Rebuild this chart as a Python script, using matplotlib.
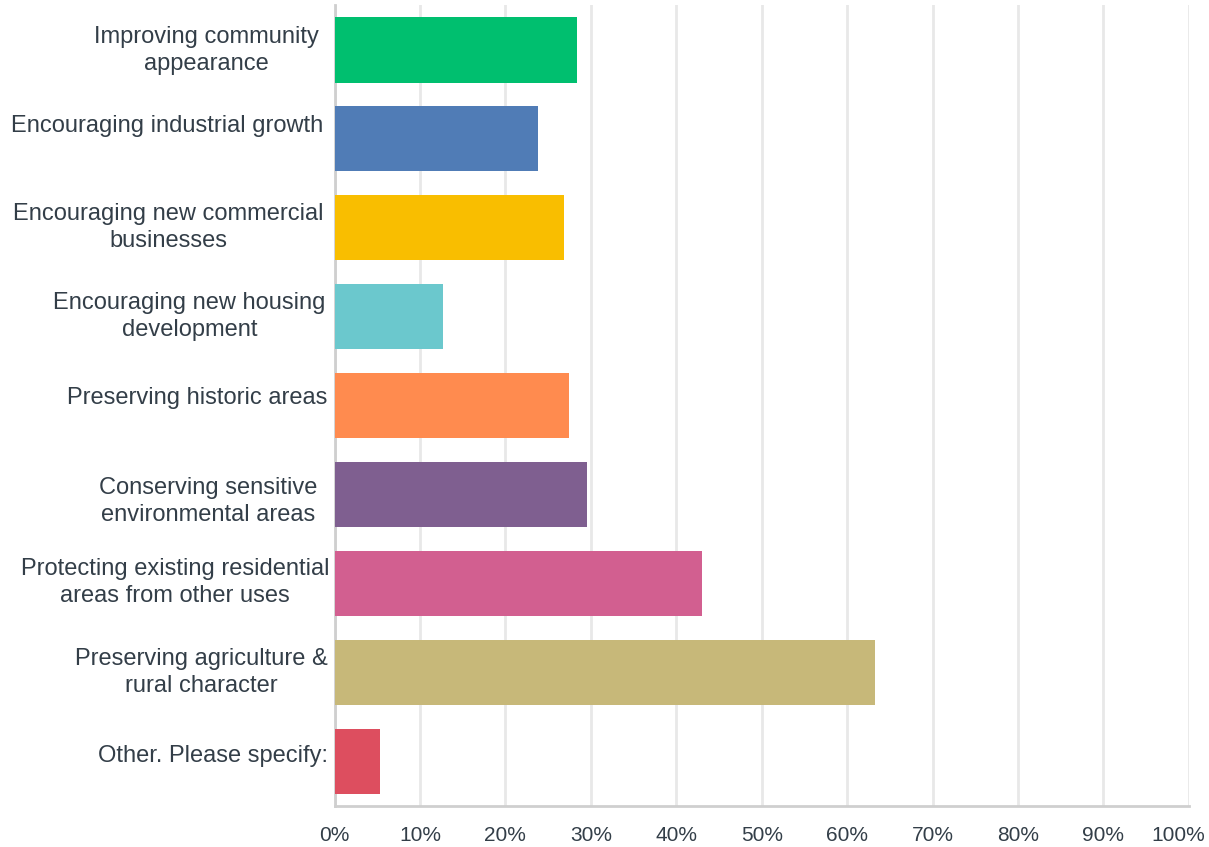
import matplotlib
matplotlib.use("Agg")
import matplotlib.pyplot as plt

categories = [
    "Improving community\nappearance",
    "Encouraging industrial growth",
    "Encouraging new commercial\nbusinesses",
    "Encouraging new housing\ndevelopment",
    "Preserving historic areas",
    "Conserving sensitive\nenvironmental areas",
    "Protecting existing residential\nareas from other uses",
    "Preserving agriculture &\nrural character",
    "Other. Please specify:",
]
values = [28.4, 23.8, 26.9, 12.7, 27.4, 29.5, 43.0, 63.3, 5.3]
colors = ["#00bf6f", "#507cb6", "#f9be00", "#6bc8cd", "#ff8b4f",
          "#7f5f90", "#d25f90", "#c7b879", "#dd4e5f"]
xticks = list(range(0, 101, 10))
xtick_labels = [f"{t}%" for t in xticks]

# small per-label nudges (pixels: x right, y up) for the category labels
label_nudge = [(-9, -1), (-4, 13), (-4, 0), (-2, 0), (0, 8),
               (-10, -7), (2, 1), (0, 0), (0, 6)]

text_color = "#333e48"
font = ["Liberation Sans", "DejaVu Sans"]
DPI = 100
PX = 72 / DPI  # points per pixel

fig = plt.figure(figsize=(12.09, 8.47), dpi=DPI)
ax = fig.add_axes([0.2767, 0.0484, 0.9834 - 0.2767, 0.994 - 0.0484])

ypos = list(range(len(categories)))
ax.barh(ypos, values, height=0.74, color=colors, zorder=3)

ax.set_xlim(0, 100)
ax.set_ylim(len(categories) - 0.5, -0.5)
ax.set_xticks(xticks)
ax.set_xticklabels([])
ax.set_yticks(ypos)
ax.set_yticklabels([])
ax.tick_params(length=0)

# category labels, right-aligned against the axis
for y, label, (dx, dy) in zip(ypos, categories, label_nudge):
    ax.annotate(label, xy=(0, y), xycoords=("axes fraction", "data"),
                xytext=((-7 + dx) * PX, dy * PX), textcoords="offset points",
                ha="right", va="center", multialignment="center",
                fontsize=17, color=text_color, family=font, linespacing=1.3)

# percentage labels under the axis; the last one is pulled inside the figure
for t, label in zip(xticks, xtick_labels):
    shift = -11 if t == xticks[-1] else 0
    ax.annotate(label, xy=(t, 0), xycoords=("data", "axes fraction"),
                xytext=(shift * PX, -29 * PX), textcoords="offset points",
                ha="center", va="center", fontsize=15, color=text_color,
                family=font)

ax.grid(axis="x", color="#e8e8e8", linewidth=2, zorder=0)
ax.set_axisbelow(True)

for side in ("top", "right"):
    ax.spines[side].set_visible(False)
ax.spines["left"].set_color("#cfcfcf")
ax.spines["left"].set_linewidth(2)
ax.spines["bottom"].set_color("#cfcfcf")
ax.spines["bottom"].set_linewidth(2)

fig.savefig("out.png", dpi=DPI)
